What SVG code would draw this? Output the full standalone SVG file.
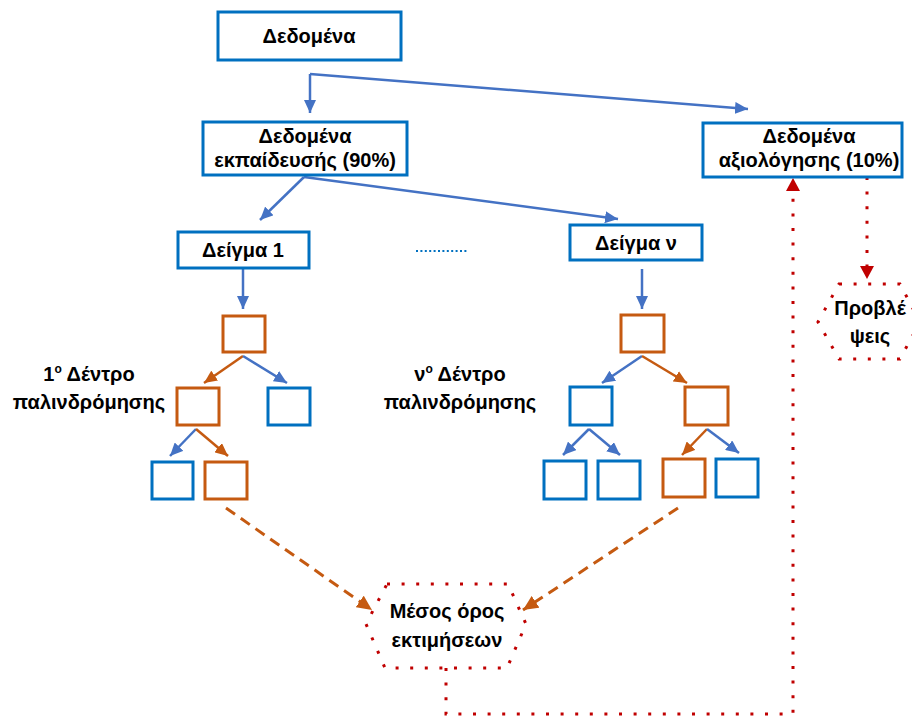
<svg xmlns="http://www.w3.org/2000/svg" width="912" height="716" viewBox="0 0 912 716">
<defs>
<style>
.bx{fill:#fff;stroke:#0070C0;stroke-width:3}
.bl{fill:none;stroke:#0070C0;stroke-width:3}
.or{fill:none;stroke:#C55A11;stroke-width:3}
.t{font-family:"Liberation Sans",Arial,sans-serif;font-weight:bold;font-size:20px;fill:#000;text-anchor:middle}
.ab{fill:none;stroke:#4472C4;stroke-width:2.5;marker-end:url(#mb)}
.ao{fill:none;stroke:#C55A11;stroke-width:2.5;marker-end:url(#mo)}
.ad{fill:none;stroke:#C55A11;stroke-width:3;stroke-dasharray:11 7;marker-end:url(#mo2)}
.rda{fill:none;stroke:#C00000;stroke-width:3;stroke-dasharray:3 11.6;marker-end:url(#mr)}
.hx{fill:#fff;stroke:#C00000;stroke-width:3;stroke-dasharray:3 11.6}
</style>
<marker id="mb" markerUnits="userSpaceOnUse" markerWidth="14" markerHeight="12" refX="13" refY="6" orient="auto"><path d="M0,0 L13,6 L0,12 z" fill="#4472C4"/></marker>
<marker id="mo" markerUnits="userSpaceOnUse" markerWidth="14" markerHeight="12" refX="13" refY="6" orient="auto"><path d="M0,0 L13,6 L0,12 z" fill="#C55A11"/></marker>
<marker id="mo2" markerUnits="userSpaceOnUse" markerWidth="16" markerHeight="14" refX="15" refY="7" orient="auto"><path d="M0,0 L15,7 L0,14 z" fill="#C55A11"/></marker>
<marker id="mr" markerUnits="userSpaceOnUse" markerWidth="14" markerHeight="14" refX="13" refY="7" orient="auto"><path d="M0,0 L13,7 L0,14 z" fill="#C00000"/></marker>
</defs>

<g id="connectors">
<path class="ab" d="M310,74 L310,113"/>
<path class="ab" d="M310,74 L748,109"/>
<path class="ab" d="M304,177 L260,220"/>
<path class="ab" d="M304,177 L618,219"/>
<path class="ab" d="M243,269 L243,309"/>
<path class="ao" d="M243,356 L204,383"/>
<path class="ab" d="M243,356 L287,383"/>
<path class="ab" d="M196,429 L170,456"/>
<path class="ao" d="M196,429 L228,456"/>
<path class="ab" d="M642,269 L642,309"/>
<path class="ab" d="M642,356 L602,383"/>
<path class="ao" d="M642,356 L687,383"/>
<path class="ab" d="M589,429 L563,455"/>
<path class="ab" d="M589,429 L620,455"/>
<path class="ao" d="M707,429 L682,455"/>
<path class="ab" d="M707,429 L739,453"/>
<path class="ad" d="M226,508 L372,610"/>
<path class="ad" d="M678,508 L523,610"/>
<path class="rda" d="M446,668 L446,714 L793,714 L793,178"/>
<path class="rda" d="M867,177 L867,279"/>
<path d="M416,251 L468,251" fill="none" stroke="#0070C0" stroke-width="2" stroke-dasharray="2 2.4"/>
</g>

<g id="n-data"><rect class="bx" x="218" y="12" width="183" height="48"/><text class="t" x="309" y="43">Δεδομένα</text></g>
<g id="n-train"><rect class="bx" x="203" y="122" width="204" height="53"/><text class="t" x="305" y="143">Δεδομένα</text><text class="t" x="305" y="167">εκπαίδευσής (90%)</text></g>
<g id="n-eval"><rect class="bx" x="703" y="123" width="199" height="54"/><text class="t" x="809" y="143">Δεδομένα</text><text class="t" x="809" y="167">αξιολόγησης (10%)</text></g>
<g id="n-sample1"><rect class="bx" x="178" y="232" width="131" height="36"/><text class="t" x="243" y="257">Δείγμα 1</text></g>
<g id="n-samplen"><rect class="bx" x="570" y="225" width="132" height="35"/><text class="t" x="636" y="250">Δείγμα ν</text></g>

<g id="tree1">
<rect class="or" x="223" y="316" width="42" height="36"/>
<rect class="or" x="177" y="388" width="42" height="37"/>
<rect class="bl" x="268" y="388" width="42" height="37"/>
<rect class="bl" x="152" y="462" width="41" height="37"/>
<rect class="or" x="205" y="462" width="42" height="37"/>
</g>
<g id="label1"><text class="t" x="89" y="381">1<tspan font-size="12" dy="-8">ο</tspan><tspan dy="8"> Δέντρο</tspan></text><text class="t" x="89" y="409">παλινδρόμησης</text></g>

<g id="treen">
<rect class="or" x="621" y="315" width="43" height="37"/>
<rect class="bl" x="570" y="387" width="42" height="38"/>
<rect class="or" x="685" y="387" width="43" height="38"/>
<rect class="bl" x="544" y="461" width="42" height="38"/>
<rect class="bl" x="598" y="461" width="42" height="38"/>
<rect class="or" x="663" y="459" width="42" height="38"/>
<rect class="bl" x="716" y="459" width="42" height="38"/>
</g>
<g id="labeln"><text class="t" x="460" y="381">ν<tspan font-size="12" dy="-8">ο</tspan><tspan dy="8"> Δέντρο</tspan></text><text class="t" x="460" y="409">παλινδρόμησης</text></g>

<g id="n-mean"><polygon class="hx" points="387,584 508,584 526,624 507,668 385,668 366,624"/><text class="t" x="447" y="618">Μέσος όρος</text><text class="t" x="447" y="647">εκτιμήσεων</text></g>
<g id="n-pred"><polygon class="hx" points="839,284 900,284 920,322 900,359 839,359 818,322"/><text class="t" x="870" y="315">Προβλέ</text><text class="t" x="870" y="343">ψεις</text></g>
</svg>
